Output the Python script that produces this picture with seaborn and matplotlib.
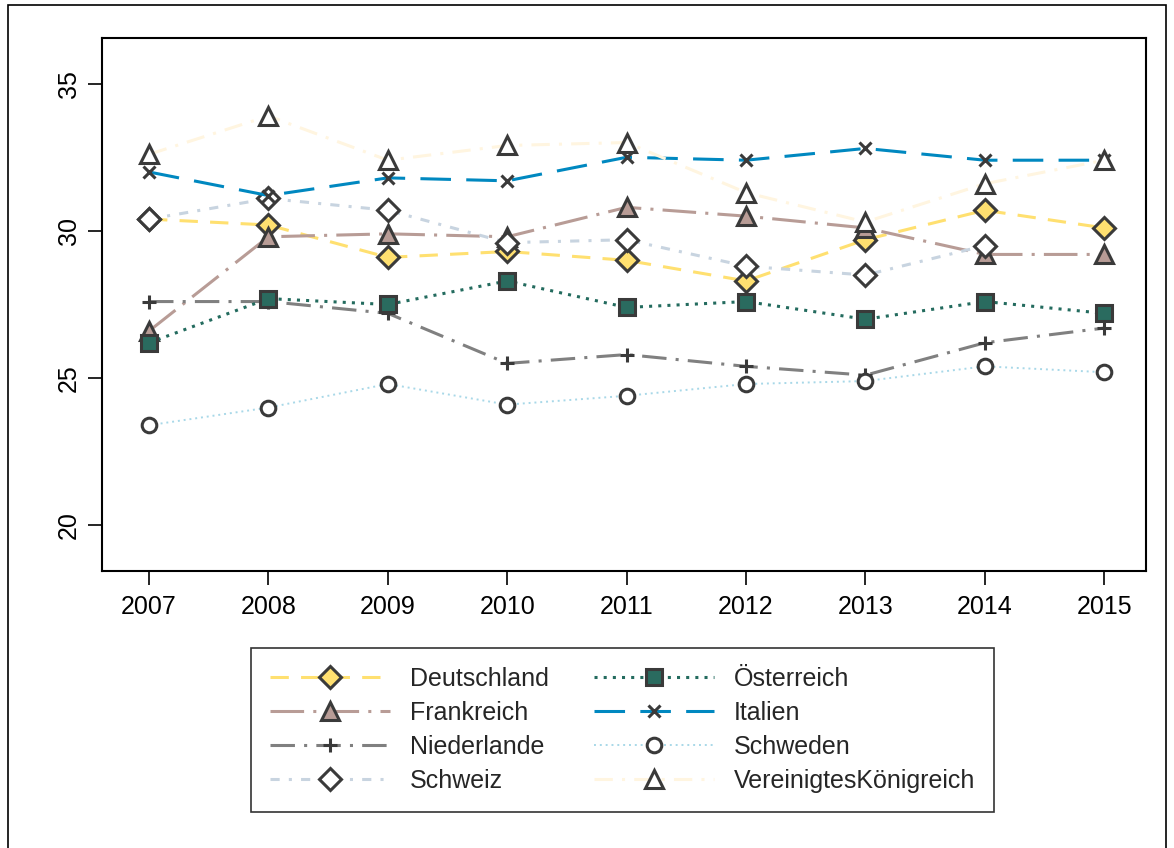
import numpy as np
import pandas as pd
import seaborn as sns
import matplotlib.pyplot as plt
from matplotlib.patches import Rectangle

years = [2007, 2008, 2009, 2010, 2011, 2012, 2013, 2014, 2015]

deutschland = [30.4, 30.2, 29.1, 29.3, 29.0, 28.3, 29.7, 30.7, 30.1]
frankreich = [26.6, 29.8, 29.9, 29.8, 30.8, 30.5, 30.1, 29.2, 29.2]
niederlande = [27.6, 27.6, 27.2, 25.5, 25.8, 25.4, 25.1, 26.2, 26.7]
schweiz = [30.4, 31.1, 30.7, 29.6, 29.7, 28.8, 28.5, 29.5, np.nan]
oesterreich = [26.2, 27.7, 27.5, 28.3, 27.4, 27.6, 27.0, 27.6, 27.2]
italien = [32.0, 31.2, 31.8, 31.7, 32.5, 32.4, 32.8, 32.4, 32.4]
schweden = [23.4, 24.0, 24.8, 24.1, 24.4, 24.8, 24.9, 25.4, 25.2]
vk = [32.6, 33.9, 32.4, 32.9, 33.0, 31.3, 30.3, 31.6, 32.4]

countries = ["Deutschland", "Frankreich", "Niederlande", "Schweiz",
             "Österreich", "Italien", "Schweden", "VereinigtesKönigreich"]
values = [deutschland, frankreich, niederlande, schweiz,
          oesterreich, italien, schweden, vk]

df = pd.DataFrame({
    "Jahr": np.tile(years, len(countries)),
    "Land": np.repeat(countries, len(years)),
    "Wert": np.concatenate(values),
})

edge = "#3a3a3a"
# line colour, dash pattern, marker, face colour, marker size, line width
styles = {
    "Deutschland": ("#FFE070", (6, 4), "D", "#FFE070", 11, 2.2),
    "Frankreich": ("#B89C96", (11, 3, 1, 3), "^", "#B89C96", 13, 2.2),
    "Niederlande": ("#808080", (8, 3, 1, 3), "+", edge, 10.5, 2.2),
    "Schweiz": ("#C8D4E0", (3, 3, 1, 3), "D", "white", 11, 2.2),
    "Österreich": ("#236B5E", (1, 2), "s", "#2A6B5F", 11, 2.2),
    "Italien": ("#0088C0", (10, 5), "x", edge, 8, 2.2),
    "Schweden": ("#A8D8E8", (1, 2), "o", "white", 10.5, 1.4),
    "VereinigtesKönigreich": ("#FFF5E0", (6, 3, 1, 3), "^", "white", 13, 2.2),
}

sns.set_style("white")
plt.rcParams["font.family"] = ["Liberation Sans", "DejaVu Sans"]

fig = plt.figure(figsize=(11.74, 8.48), dpi=100)
ax = fig.add_axes([102 / 1174, 1 - 571 / 848, 1044 / 1174, 533 / 848])

handles = []
for land in countries:
    col, dash, mk, face, ms, lw = styles[land]
    sub = df[df["Land"] == land]
    kw = dict(marker=mk, markersize=ms, markerfacecolor=face,
              markeredgecolor=edge, markeredgewidth=2.2)
    sns.lineplot(data=sub, x="Jahr", y="Wert", ax=ax, color=col,
                 linewidth=lw, legend=False, **kw)
    line = ax.get_lines()[-1]
    line.set_dashes(dash)
    line.set_label(land)
    handles.append(line)

ax.set_xlim(2006.606, 2015.35)
ax.set_ylim(18.45, 36.55)
ax.set_xticks(years)
ax.set_yticks([20, 25, 30, 35])
ax.set_xlabel("")
ax.set_ylabel("")
for s in ax.spines.values():
    s.set_color("black")
    s.set_linewidth(1.5)
ax.tick_params(axis="both", direction="out", length=10, width=1.2,
               labelsize=18, colors="black", pad=7)
ax.tick_params(axis="y", pad=5)
ax.tick_params(axis="both", bottom=True, left=True)
for lab in ax.get_yticklabels():
    lab.set_rotation(90)
    lab.set_va("center")
ax.grid(False)

leg = fig.legend(handles=handles, labels=countries, ncol=2,
                 loc="upper left", bbox_to_anchor=(251 / 1174, 1 - 648 / 848),
                 fontsize=18, frameon=True, fancybox=False, edgecolor="black",
                 handlelength=4.8, handletextpad=0.8, columnspacing=1.8,
                 labelspacing=0.4, borderpad=0.75, borderaxespad=0)
leg.get_frame().set_linewidth(1.2)

fig.patches.append(Rectangle((8 / 1174, -0.05), 1158 / 1174, 1.05 - 5 / 848,
                             transform=fig.transFigure, fill=False,
                             edgecolor="black", linewidth=1.2))

fig.savefig("out.png", dpi=100)
